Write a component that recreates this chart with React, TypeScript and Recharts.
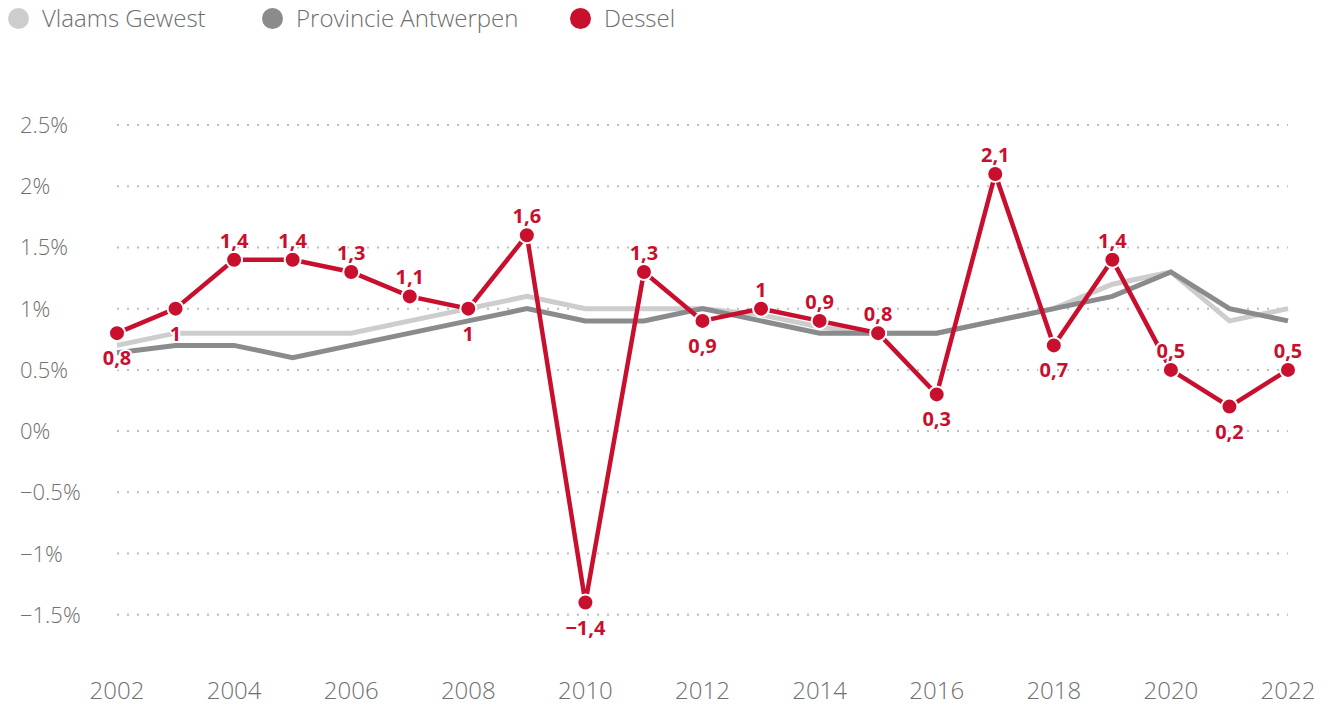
import React from "react";
import { LineChart, Line, XAxis, YAxis, CartesianGrid, LabelList } from "recharts";

const years = [2002,2003,2004,2005,2006,2007,2008,2009,2010,2011,2012,2013,2014,2015,2016,2017,2018,2019,2020,2021,2022];
const vlaams = [0.7,0.8,0.8,0.8,0.8,0.9,1.0,1.1,1.0,1.0,1.0,0.95,0.85,0.8,0.8,0.9,1.0,1.2,1.3,0.9,1.0];
const provincie = [0.64,0.7,0.7,0.6,0.7,0.8,0.9,1.0,0.9,0.9,1.0,0.9,0.8,0.8,0.8,0.9,1.0,1.1,1.3,1.0,0.9];
const dessel = [0.8,1,1.4,1.4,1.3,1.1,1,1.6,-1.4,1.3,0.9,1,0.9,0.8,0.3,2.1,0.7,1.4,0.5,0.2,0.5];
const desselLabelSide = ["below","below","above","above","above","above","below","above","below","above","below","above","above","above","below","above","below","above","above","below","above"];
const yTicks = [-1.5,-1,-0.5,0,0.5,1,1.5,2,2.5];
const xTicks = [2002,2004,2006,2008,2010,2012,2014,2016,2018,2020,2022];
const seriesNames = ["Vlaams Gewest","Provincie Antwerpen","Dessel"];
const seriesColors = ["#CDCDCD","#898B8D","#C8102E"];

const data = years.map((y, i) => ({ year: y, vlaams: vlaams[i], provincie: provincie[i], dessel: dessel[i] }));

const FONT = "'Open Sans', Lato, sans-serif";

const fmtY = (v: number) => {
  const s = String(Math.abs(v)) + "%";
  return v < 0 ? "\u2212" + s : s;
};
const fmtLabel = (v: number) => {
  const s = String(Math.abs(v)).replace(".", ",");
  return v < 0 ? "\u2212" + s : s;
};

const YTick = (props: any) => {
  const { y, payload } = props;
  return (
    <text x={20} y={y} dy={8} textAnchor="start" fontFamily={FONT} fontWeight={300} fontSize={22} fill="#707070">
      {fmtY(payload.value)}
    </text>
  );
};

const XTick = (props: any) => {
  const { x, y, payload } = props;
  return (
    <text x={x} y={y} dy={15} textAnchor="middle" fontFamily={FONT} fontWeight={300} fontSize={24} fill="#707070">
      {payload.value}
    </text>
  );
};

const DesselLabel = (props: any) => {
  const { x, y, value, index } = props;
  const side = desselLabelSide[index];
  const ty = side === "above" ? y - 12 : y + 32;
  return (
    <text x={x} y={ty} textAnchor="middle" fontFamily={FONT} fontWeight={700} fontSize={20}
      fill="#C8102E" stroke="#ffffff" strokeWidth={4} paintOrder="stroke" strokeLinejoin="round">
      {fmtLabel(value)}
    </text>
  );
};

export default function App() {
  const legendX = [8, 262, 570];
  return (
    <div style={{ position: "absolute", left: 0, top: 0, width: 1328, height: 706, background: "#fff" }}>
      <div style={{ position: "absolute", left: 0, top: 0, width: 1328, height: 40 }}>
        {seriesNames.map((n, i) => (
          <div key={n} style={{ position: "absolute", left: legendX[i], top: 5, display: "flex", alignItems: "center" }}>
            <span style={{ display: "inline-block", width: 21, height: 21, borderRadius: "50%", background: seriesColors[i] }} />
            <span style={{ marginLeft: 13, fontFamily: FONT, fontWeight: 300, fontSize: 24, color: "#6e6e6e", lineHeight: "26px" }}>{n}</span>
          </div>
        ))}
      </div>
      <div style={{ position: "absolute", left: 0, top: 0 }}>
        <LineChart width={1328} height={706} data={data} margin={{ top: 125, right: 40, bottom: 0, left: 0 }}>
          <CartesianGrid vertical={false} stroke="#bdbdbd" strokeWidth={2} strokeDasharray="2 8" horizontalValues={yTicks} />
          <XAxis dataKey="year" type="number" domain={[2002, 2022]} ticks={xTicks} axisLine={false} tickLine={false} tick={<XTick />} height={30} />
          <YAxis type="number" domain={[-2, 2.5]} ticks={yTicks} axisLine={false} tickLine={false} tick={<YTick />} width={117} interval={0} />
          <Line dataKey="vlaams" stroke={seriesColors[0]} strokeWidth={5} dot={false} isAnimationActive={false} strokeLinejoin="miter" />
          <Line dataKey="provincie" stroke={seriesColors[1]} strokeWidth={5} dot={false} isAnimationActive={false} strokeLinejoin="miter" />
          <Line dataKey="dessel" stroke={seriesColors[2]} strokeWidth={4.5} isAnimationActive={false}
            dot={{ r: 8, fill: seriesColors[2], stroke: "#ffffff", strokeWidth: 2 }} activeDot={false}>
            <LabelList dataKey="dessel" content={<DesselLabel />} />
          </Line>
        </LineChart>
      </div>
    </div>
  );
}
